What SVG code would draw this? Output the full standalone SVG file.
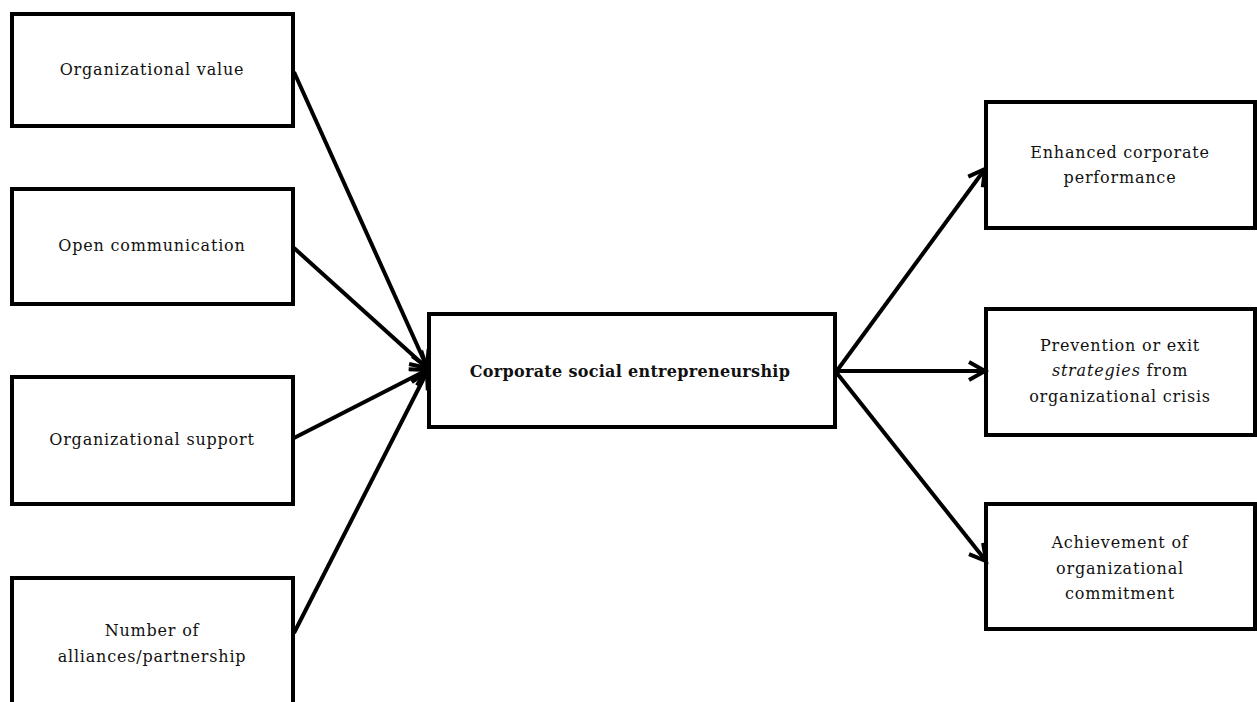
<svg xmlns="http://www.w3.org/2000/svg" width="1257" height="702" viewBox="0 0 1257 702">
<style>
.box{fill:#fff;stroke:#000;stroke-width:4}
.t{font-family:"DejaVu Serif","Liberation Serif",serif;font-size:16px;letter-spacing:0.8px;fill:#111;text-anchor:middle}
.b{font-weight:bold;letter-spacing:0.3px}
.c{fill:none;stroke:#000;stroke-width:4;marker-end:url(#ah)}
</style>
<defs>
<marker id="ah" markerUnits="userSpaceOnUse" markerWidth="24" markerHeight="24" refX="17" refY="10" orient="auto" viewBox="0 0 24 20">
<path d="M1,1 L17,10 L1,19" fill="none" stroke="#000" stroke-width="4" stroke-linejoin="miter"/>
</marker>
</defs>
<rect width="1257" height="702" fill="#fff"/>
<g id="n1"><rect class="box" x="12" y="14" width="281" height="112"/><text class="t" x="152" y="75">Organizational value</text></g>
<g id="n2"><rect class="box" x="12" y="189" width="281" height="115"/><text class="t" x="152" y="251">Open communication</text></g>
<g id="n3"><rect class="box" x="12" y="377" width="281" height="127"/><text class="t" x="152" y="445">Organizational support</text></g>
<g id="n4"><rect class="box" x="12" y="578" width="281" height="140"/><text class="t" x="152" y="636">Number of</text><text class="t" x="152" y="662">alliances/partnership</text></g>
<g id="center"><rect class="box" x="429" y="314" width="406" height="113"/><text class="t b" x="630" y="377">Corporate social entrepreneurship</text></g>
<g id="r1"><rect class="box" x="986" y="102" width="269" height="126"/><text class="t" x="1120" y="158">Enhanced corporate</text><text class="t" x="1120" y="183">performance</text></g>
<g id="r2"><rect class="box" x="986" y="309" width="269" height="126"/><text class="t" x="1120" y="351">Prevention or exit</text><text class="t" x="1120" y="376"><tspan font-style="italic">strategies</tspan> from</text><text class="t" x="1120" y="402">organizational crisis</text></g>
<g id="r3"><rect class="box" x="986" y="504" width="269" height="125"/><text class="t" x="1120" y="548">Achievement of</text><text class="t" x="1120" y="574">organizational</text><text class="t" x="1120" y="599">commitment</text></g>
<g id="connectors">
<line class="c" x1="294" y1="72" x2="427" y2="367"/>
<line class="c" x1="294" y1="248" x2="427" y2="368"/>
<line class="c" x1="294" y1="438" x2="427" y2="370"/>
<line class="c" x1="294" y1="633" x2="427" y2="372"/>
<line class="c" x1="836" y1="372" x2="985" y2="169"/>
<line class="c" x1="836" y1="371" x2="985" y2="371"/>
<line class="c" x1="836" y1="372" x2="986" y2="561"/>
</g>
</svg>
